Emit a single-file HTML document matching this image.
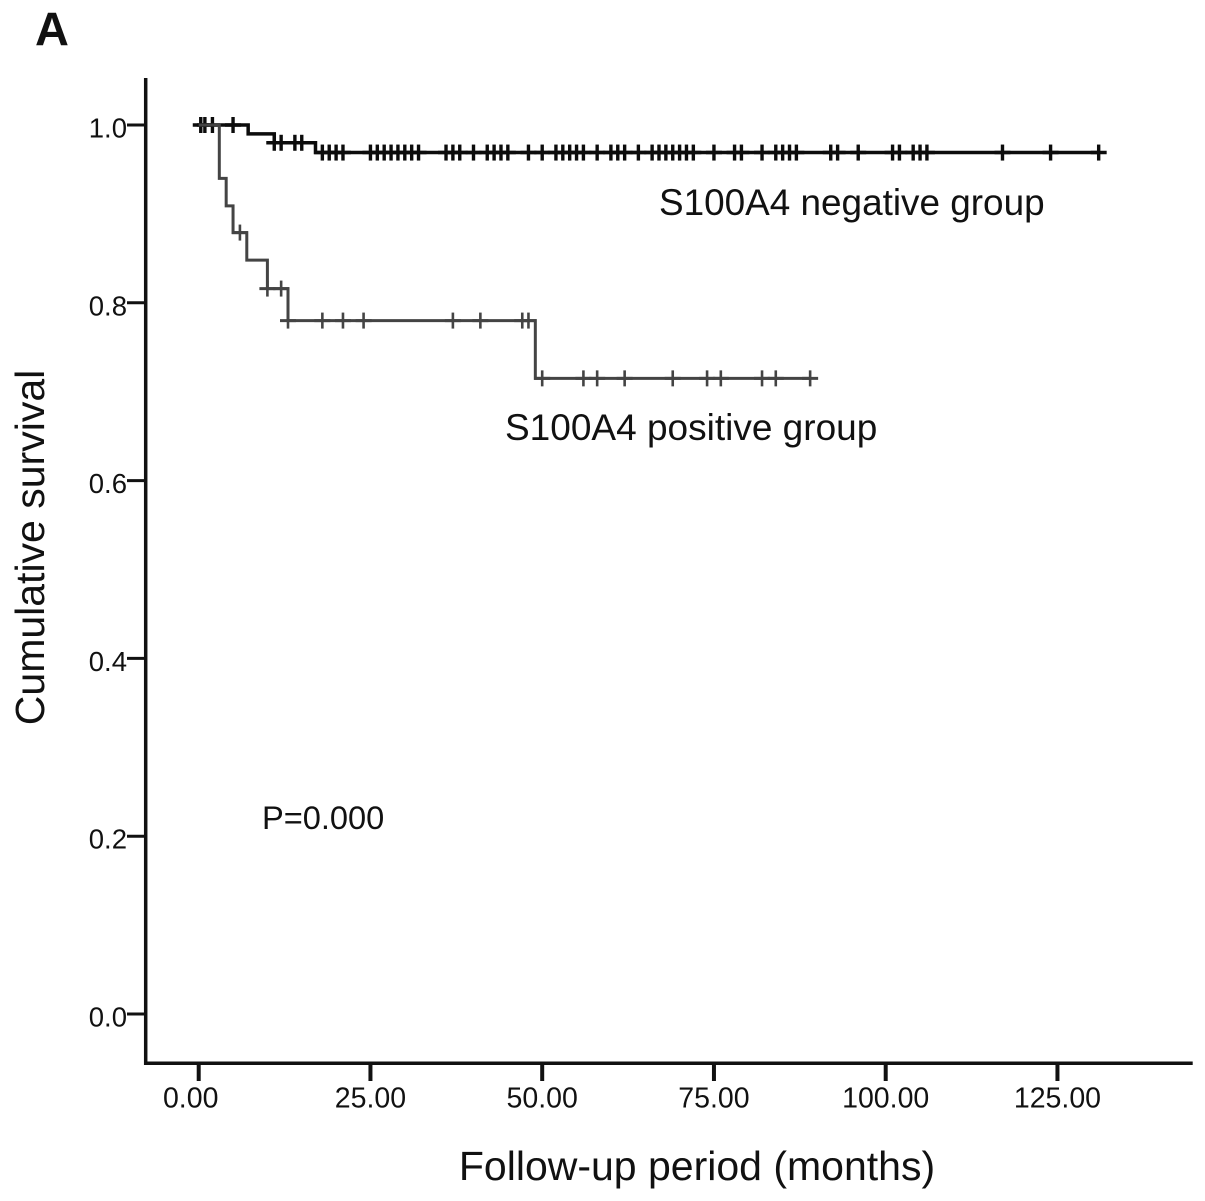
<!DOCTYPE html>
<html lang="en">
<head>
<meta charset="utf-8">
<title>Kaplan-Meier survival chart</title>
<style>
html,body{margin:0;padding:0;background:#fff;}
svg{display:block;}
text{font-family:"Liberation Sans",Arial,sans-serif;fill:#111;}
</style>
</head>
<body>
<svg id="chart" xmlns="http://www.w3.org/2000/svg" width="1205" height="1201" viewBox="0 0 1205 1201">
  <rect width="1205" height="1201" fill="#fff"/>
  <text x="35" y="45.5" font-size="47" font-weight="700">A</text>
  <line x1="145.7" y1="78" x2="145.7" y2="1065" stroke="#111" stroke-width="3.5"/>
  <line x1="144" y1="1063.3" x2="1192.7" y2="1063.3" stroke="#111" stroke-width="3.5"/>
  <g id="axes"></g>
  <g id="series"></g>
  <text x="659" y="215" font-size="36.9">S100A4 negative group</text>
  <text x="505" y="440" font-size="37">S100A4 positive group</text>
  <text x="262" y="829" font-size="32.6">P=0.000</text>
  <text x="697" y="1180" font-size="41" text-anchor="middle">Follow-up period (months)</text>
  <text transform="translate(44 547.5) rotate(-90)" font-size="41" text-anchor="middle">Cumulative survival</text>
</svg>
<script>
const xTickValues = [0, 25, 50, 75, 100, 125];
const xTickLabels = ["0.00", "25.00", "50.00", "75.00", "100.00", "125.00"];
const yTickValues = [0, 0.2, 0.4, 0.6, 0.8, 1.0];
const yTickLabels = ["0.0", "0.2", "0.4", "0.6", "0.8", "1.0"];

const negativeEventTimes = [7.2, 11, 17];
const negativeSurvival = [0.99, 0.98, 0.969];
const negativeEndTime = 131;
const negativeCensored = [0.3, 0.9, 2, 5, 11, 12, 14, 15, 18, 19, 20, 21, 25, 26, 27, 28, 29, 30, 31, 32, 36, 37, 38, 40, 42, 43, 44, 45, 48, 50, 52, 53, 54, 55, 56, 58, 60, 61, 62, 64, 66, 67, 68, 69, 70, 71, 72, 75, 78, 79, 82, 84, 85, 86, 87, 92, 93, 96, 101, 102, 104, 105, 106, 117, 124, 131];

const positiveEventTimes = [3, 4, 5, 7, 10, 13, 49];
const positiveSurvival = [0.94, 0.909, 0.879, 0.848, 0.816, 0.78, 0.715];
const positiveEndTime = 89;
const positiveCensored = [6, 10, 12, 13, 18, 21, 24, 37, 41, 47.1, 48, 50, 56, 58, 62, 69, 74, 76, 82, 84, 89];

const SVG_NS = "http://www.w3.org/2000/svg";
const xScale = t => 198.7 + 6.87 * t;
const yScale = v => 1014 - 889 * v;

function survivalAt(t, times, values) {
  let s = 1;
  times.forEach((et, i) => { if (t >= et) s = values[i]; });
  return s;
}
function makeLine(parent, x1, y1, x2, y2, color, width) {
  const l = document.createElementNS(SVG_NS, "line");
  l.setAttribute("x1", x1);
  l.setAttribute("y1", y1);
  l.setAttribute("x2", x2);
  l.setAttribute("y2", y2);
  l.setAttribute("stroke", color);
  l.setAttribute("stroke-width", width);
  parent.appendChild(l);
  return l;
}
function makeLabel(parent, x, y, anchor, content, size) {
  const t = document.createElementNS(SVG_NS, "text");
  t.setAttribute("x", x);
  t.setAttribute("y", y);
  t.setAttribute("font-size", size);
  t.setAttribute("text-anchor", anchor);
  t.textContent = content;
  parent.appendChild(t);
  return t;
}

const axes = document.getElementById("axes");
xTickValues.forEach((v, i) => {
  const tick = makeLine(axes, xScale(v), 1063, xScale(v), 1081, "#111", 4);
  
  
  const labelShift = i === 0 ? -8 : 0;
  const label = makeLabel(axes, xScale(v) + labelShift, 1107.5, "middle", xTickLabels[i], 28.5);
  
  
});
yTickValues.forEach((v, i) => {
  const tick = makeLine(axes, 127, yScale(v), 145, yScale(v), "#111", 3);
  
  
  const label = makeLabel(axes, 127, yScale(v) + 12.5, "end", yTickLabels[i], 27.5);
  
  
});

function drawSeries(groupName, times, values, endTime, censored, color, width, markWidth) {
  const g = document.createElementNS(SVG_NS, "g");
  
  
  document.getElementById("series").appendChild(g);
  let d = "M" + xScale(0) + " " + yScale(1);
  times.forEach((et, i) => {
    d += " H" + xScale(et) + " V" + yScale(values[i]);
  });
  d += " H" + xScale(endTime);
  const path = document.createElementNS(SVG_NS, "path");
  path.setAttribute("d", d);
  path.setAttribute("fill", "none");
  path.setAttribute("stroke", color);
  path.setAttribute("stroke-width", width);
  
  
  g.appendChild(path);
  censored.forEach(t => {
    const cy = yScale(survivalAt(t, times, values));
    const h = makeLine(g, xScale(t) - 8, cy, xScale(t) + 8, cy, color, width);
    
    
    const v = makeLine(g, xScale(t), cy - 8, xScale(t), cy + 8, color, markWidth);
    
    
  });
}
drawSeries("negative-group-curve", negativeEventTimes, negativeSurvival, negativeEndTime, negativeCensored, "#0c0c0c", 3.5, 3.4);
drawSeries("positive-group-curve", positiveEventTimes, positiveSurvival, positiveEndTime, positiveCensored, "#444", 3, 2.6);
</script>
</body>
</html>
